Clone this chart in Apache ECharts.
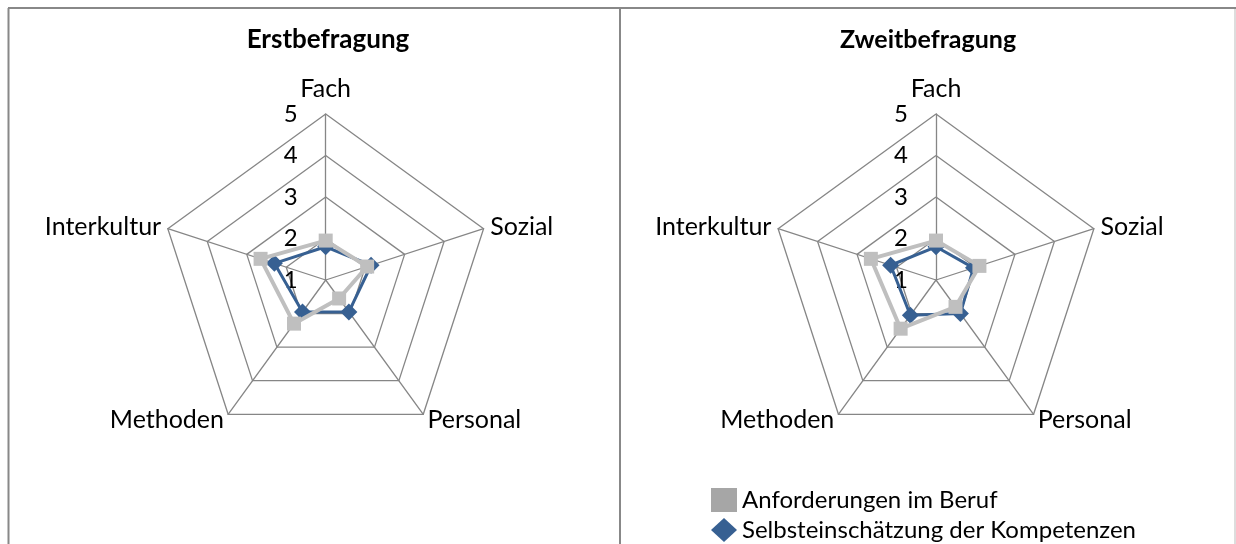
<!DOCTYPE html>
<html>
<head>
<meta charset="utf-8">
<script src="https://cdn.jsdelivr.net/npm/echarts@6/dist/echarts.min.js"></script>
<style>
    html, body {margin: 0; padding: 0; background: #fff;}
    #chart {width: 1236px; height: 544px;}
</style>
</head>
<body>
<div id="chart"></div>
<script>
const dimensions = ['Fach', 'Sozial', 'Personal', 'Methoden', 'Interkultur']
const survey_titles = ['Erstbefragung', 'Zweitbefragung']
const series_names = ['Anforderungen im Beruf', 'Selbsteinschätzung der Kompetenzen']
const scale_min = 1
const scale_max = 5

// Erstbefragung
const first_demand = [1.95, 2.05, 1.55, 2.3, 2.65]
const first_self = [1.8, 2.15, 1.95, 1.95, 2.3]

// Zweitbefragung
const second_demand = [1.95, 2.1, 1.8, 2.45, 2.65]
const second_self = [1.8, 1.95, 2.0, 2.05, 2.15]

const GRID_COLOR = '#868686'
const DEMAND_COLOR = '#BFBFBF'
const DEMAND_LEGEND = '#A6A6A6'
const SELF_COLOR = '#376092'
const FONT = 'Lato'

// echarts legt die Achsen gegen den Uhrzeigersinn an, Excel im Uhrzeigersinn
const clockwise = (arr) => [arr[0], ...arr.slice(1).reverse()]

const build_radar = (center) => ({
    center: center,
    radius: 166,
    startAngle: 90,
    shape: 'polygon',
    splitNumber: 4,
    nameGap: 7,
    indicator: clockwise(dimensions).map((name, i) => ({
        name: name,
        min: scale_min,
        max: scale_max,
        // nur die Fach-Achse bekommt Zahlen
        axisLabel: {show: i === 0},
        ...(i === 0 ? {nameGap: 13} : {}),
    })),
    axisName: {color: '#000', fontSize: 25, fontFamily: FONT},
    axisLine: {lineStyle: {color: GRID_COLOR, width: 1.3}},
    splitLine: {lineStyle: {color: GRID_COLOR, width: 1.3}},
    splitArea: {show: false},
    axisTick: {show: false},
    axisLabel: {show: false, color: '#000', fontSize: 24, fontFamily: FONT, margin: 28},
})

const build_series = (radar_index, demand, self) => [
    {
        type: 'radar',
        radarIndex: radar_index,
        name: series_names[1],
        z: 2,
        symbol: 'diamond',
        symbolSize: 17,
        lineStyle: {color: SELF_COLOR, width: 3},
        itemStyle: {color: SELF_COLOR},
        data: [{value: clockwise(self), name: series_names[1]}],
    },
    {
        type: 'radar',
        radarIndex: radar_index,
        name: series_names[0],
        z: 3,
        symbol: 'rect',
        symbolSize: 14,
        lineStyle: {color: DEMAND_COLOR, width: 4},
        itemStyle: {color: DEMAND_COLOR},
        data: [{value: clockwise(demand), name: series_names[0]}],
    },
]

const frame_line = (x1, y1, x2, y2, color) => ({
    type: 'line',
    silent: true,
    shape: {x1, y1, x2, y2},
    style: {stroke: color, lineWidth: 2},
})

const title_style = {fontSize: 26, fontWeight: 'bold', fontFamily: FONT, color: '#000'}

const chart = echarts.init(document.getElementById('chart'))

chart.setOption({
    animation: false,
    backgroundColor: '#fff',
    title: [
        {text: survey_titles[0], left: 323, top: 22, textAlign: 'center', textStyle: title_style},
        {text: survey_titles[1], left: 923, top: 22, textAlign: 'center', textStyle: {...title_style, fontSize: 25}},
    ],
    legend: {
        orient: 'vertical',
        left: 711,
        top: 487,
        padding: 0,
        itemWidth: 26,
        itemHeight: 24,
        itemGap: 4,
        textStyle: {fontSize: 24, lineHeight: 26, fontFamily: FONT, color: '#000'},
        data: [
            {name: series_names[0], icon: 'rect', itemStyle: {color: DEMAND_LEGEND}},
            {name: series_names[1], icon: 'diamond', itemStyle: {color: SELF_COLOR}},
        ],
    },
    radar: [
        build_radar([325.7, 280]),
        build_radar([936, 280]),
    ],
    series: [
        ...build_series(0, first_demand, first_self),
        ...build_series(1, second_demand, second_self),
    ],
    graphic: [
        frame_line(8, 8, 1236, 8, '#888'),
        frame_line(8.5, 8, 8.5, 544, '#888'),
        frame_line(620, 8, 620, 544, '#888'),
        frame_line(1235, 9, 1235, 544, '#ddd'),
    ],
})
</script>
</body>
</html>
